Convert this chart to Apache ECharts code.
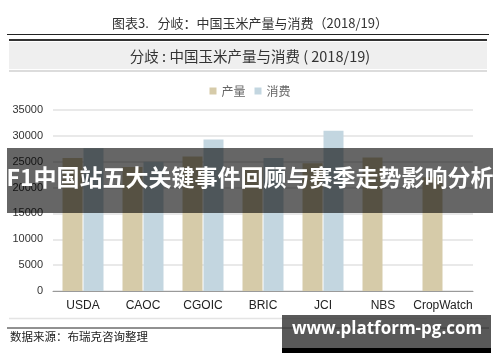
<!DOCTYPE html>
<html><head><meta charset="utf-8">
<script src="https://cdn.jsdelivr.net/npm/echarts@6/dist/echarts.min.js"></script>
<style>html,body{margin:0;padding:0;background:#fff}#c{width:500px;height:362px}</style>
</head><body><div id="c"></div>
<script>
const categories = ['USDA','CAOC','CGOIC','BRIC','JCI','NBS','CropWatch'];
const production = [25700, 24000, 26000, 24000, 24700, 25800, 22000];
const consumption = [27600, 25000, 29300, 25700, 31000, null, null];
const yTicks = [0, 5000, 10000, 15000, 20000, 25000, 30000, 35000];
const seriesNames = ['产量', '消费'];

const cjk = '"Noto Sans CJK SC", sans-serif';
const chart = echarts.init(document.getElementById('c'), null, {renderer: 'canvas'});
chart.setOption({
  backgroundColor: '#fff',
  animation: false,
  grid: {left: 53, right: 27, top: 110, bottom: 71, containLabel: false},
  legend: {
    data: seriesNames, top: 80, left: 'center', itemWidth: 7, itemHeight: 7, itemGap: 9,
    icon: 'rect', textStyle: {color: '#666', fontSize: 12, fontFamily: cjk}
  },
  xAxis: {
    type: 'category', data: categories,
    axisTick: {show: false},
    axisLine: {lineStyle: {color: '#9a9a9a', width: 1}},
    axisLabel: {interval: 0, color: '#222', fontSize: 12, fontFamily: 'Liberation Sans, Arial', margin: 9}
  },
  yAxis: {
    type: 'value', min: yTicks[0], max: yTicks[yTicks.length - 1], interval: 5000,
    axisLine: {show: false}, axisTick: {show: false},
    axisLabel: {color: '#333', fontSize: 11, fontFamily: 'Liberation Sans, Arial', margin: 10,
                formatter: v => String(v)},
    splitLine: {lineStyle: {color: '#e2e2e2', width: 1.5}}
  },
  series: [
    {name: seriesNames[0], type: 'bar', data: production, barWidth: 20, barGap: '5%',
     itemStyle: {color: '#d6cba9'}},
    {name: seriesNames[1], type: 'bar', data: consumption, barWidth: 20,
     itemStyle: {color: '#c3d6e0'}}
  ],
  graphic: [
    {type: 'text', left: 'center', top: 17, z: 10,
     style: {text: '图表3.   分岐：中国玉米产量与消费（2018/19）', fill: '#333', font: '13px ' + cjk}},
    {type: 'line', z: 10, shape: {x1: 7, y1: 34.5, x2: 489, y2: 34.5}, style: {stroke: '#222', lineWidth: 1}},
    {type: 'line', z: 10, shape: {x1: 9, y1: 40, x2: 487, y2: 40}, style: {stroke: '#333', lineWidth: 2}},
    {type: 'rect', z: 5, shape: {x: 9, y: 42, width: 478, height: 27}, style: {fill: '#efefef'}},
    {type: 'line', z: 10, shape: {x1: 9, y1: 71, x2: 487, y2: 71}, style: {stroke: '#dcdcdc', lineWidth: 2}},
    {type: 'text', left: 'center', top: 49, z: 10,
     style: {text: '分歧 : 中国玉米产量与消费 ( 2018/19)', fill: '#333', font: '14.5px ' + cjk}},
    {type: 'line', z: 10, shape: {x1: 9, y1: 318.5, x2: 487, y2: 318.5}, style: {stroke: '#e4e4e4', lineWidth: 1.5}},
    {type: 'line', z: 10, shape: {x1: 7, y1: 328, x2: 489, y2: 328}, style: {stroke: '#222', lineWidth: 1}},
    {type: 'text', left: 10, top: 331, z: 10,
     style: {text: '数据来源：布瑞克咨询整理', fill: '#222', font: '11.5px ' + cjk}},
    {type: 'rect', z: 50, shape: {x: 7, y: 148, width: 486, height: 65}, style: {fill: 'rgba(0,0,0,0.6)'}},
    {type: 'text', z: 51, left: 'center', top: 166,
     style: {text: 'F1中国站五大关键事件回顾与赛季走势影响分析', fill: '#fff', font: 'bold 23px ' + cjk}},
    {type: 'rect', z: 50, shape: {x: 282, y: 315, width: 209, height: 33}, style: {fill: 'rgba(60,60,60,0.85)'}},
    {type: 'rect', z: 50, shape: {x: 282, y: 348, width: 209, height: 5}, style: {fill: '#000'}},
    {type: 'text', z: 51, left: 292, top: 321,
     style: {text: 'www.platform-pg.com', fill: '#fff', font: 'bold 17px "Open Sans", "DejaVu Sans", sans-serif'}}
  ]
});
</script></body></html>
